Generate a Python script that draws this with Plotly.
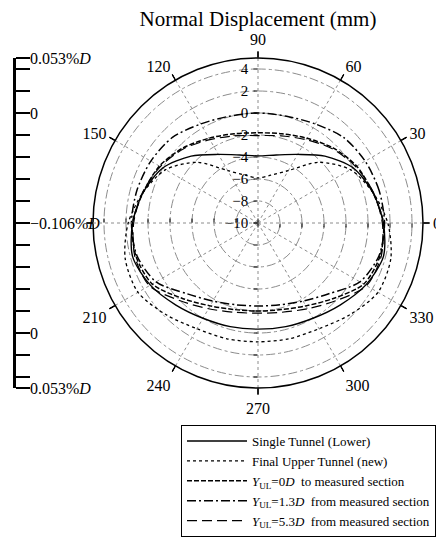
import plotly.graph_objects as go

# ---- data ----
theta = [0, 15, 30, 45, 60, 75, 90, 105, 120, 135, 150, 165, 180,
         195, 210, 225, 240, 255, 270, 285, 300, 315, 330, 345, 360]

single_lower = [1.4, 0.8, 0.0, -1.4, -2.8, -3.6, -3.9, -3.6, -2.8, -1.4, 0.0, 0.8, 1.4,
                1.8, 1.3, 0.55, 0.0, -0.25, -0.35, -0.25, 0.0, 0.55, 1.3, 1.8, 1.4]
final_upper = [1.8, 0.8, -0.3, -2.2, -4.5, -5.5, -5.9, -5.5, -4.5, -2.2, -0.3, 0.8, 1.8,
               2.5, 2.6, 1.8, 1.1, 0.9, 0.8, 0.9, 1.1, 1.8, 2.6, 2.5, 1.8]
y_0d = [1.4, 0.8, 0.35, -0.35, -1.1, -1.6, -1.8, -1.6, -1.1, -0.35, 0.35, 0.8, 1.4,
        1.5, 1.1, -0.3, -1.3, -1.85, -2.0, -1.85, -1.3, -0.3, 1.1, 1.5, 1.4]
y_13d = [1.5, 1.4, 1.25, 1.0, 0.4, 0.05, 0.0, 0.05, 0.4, 1.0, 1.25, 1.4, 1.5,
         1.4, 0.7, -0.9, -1.8, -2.3, -2.45, -2.3, -1.8, -0.9, 0.7, 1.4, 1.5]
y_53d = [1.3, 0.85, 0.25, -0.45, -1.25, -1.8, -2.05, -1.8, -1.25, -0.45, 0.25, 0.85, 1.3,
         1.6, 1.4, 0.0, -1.0, -1.6, -1.8, -1.6, -1.0, 0.0, 1.4, 1.6, 1.3]

series_names = [
    "Single Tunnel (Lower)",
    "Final Upper Tunnel (new)",
    "<i>Y</i><sub>UL</sub>=0<i>D</i>\u00a0\u00a0to measured section",
    "<i>Y</i><sub>UL</sub>=1.3<i>D</i>\u00a0\u00a0from measured section",
    "<i>Y</i><sub>UL</sub>=5.3<i>D</i>\u00a0\u00a0from measured section",
]
series_values = [single_lower, final_upper, y_0d, y_13d, y_53d]

radial_ticks = [-10, -8, -6, -4, -2, 0, 2, 4]
angular_ticks = [0, 30, 60, 90, 120, 150, 210, 240, 270, 300, 330]
angular_labels = ["0", "30", "60", "90", "120", "150", "210", "240", "270", "300", "330"]
all_spokes = [0, 30, 60, 90, 120, 150, 180, 210, 240, 270, 300, 330]

# left scale bar (distance from centre in mm -> %D labels)
scale_vals = [-15, -10, 0, 10, 15]
scale_text = ["0.053%<i>D</i>", "0", "\u22120.106%<i>D</i>", "0", "0.053%<i>D</i>"]
scale_minor = [-14, -12, -8, -6, -4, -2, 2, 4, 6, 8, 12, 14]

styles = [
    dict(dash="solid", width=1.4),
    dict(dash="dot", width=1.3),
    dict(dash="5px,2px", width=1.5),
    dict(dash="9px,3px,2px,3px", width=1.5),
    dict(dash="10px,5px", width=1.2),
]

FONT = "Liberation Serif, Times New Roman, serif"
GRID = "#8c8c8c"

fig = go.Figure()
for name, vals, st in zip(series_names, series_values, styles):
    fig.add_trace(go.Scatterpolar(
        r=vals, theta=theta, mode="lines", name=name, subplot="polar",
        line=dict(color="black", width=st["width"], dash=st["dash"], shape="spline", smoothing=0.8),
    ))

# empty traces that carry the overlay polar subplots (spoke at 180, short ticks, radial tick marks)
for sp in ["polar2", "polar3", "polar4", "polar5"]:
    fig.add_trace(go.Scatterpolar(r=[], theta=[], subplot=sp, showlegend=False, hoverinfo="skip"))

# invisible trace to carry the scale-bar axis
fig.add_trace(go.Scatter(x=[0], y=[0], xaxis="x2", yaxis="y2", mode="markers",
                         marker=dict(opacity=0), showlegend=False, hoverinfo="skip"))

W, H = 444, 547
OFF = 8  # the page body adds an 8 px margin; target pixel positions are compensated
cx, cy, R = 258 - OFF, 223 - OFF, 165
dom = dict(x=[(cx - R) / W, (cx + R) / W], y=[1 - (cy + R) / H, 1 - (cy - R) / H])


def overlay_polar(radial_angle, show_radial, angular_grid_vals, angular_ticks_on):
    return dict(
        domain=dom, bgcolor="rgba(0,0,0,0)",
        radialaxis=dict(
            range=[-10, 5], tickvals=radial_ticks, angle=radial_angle,
            visible=show_radial, showline=False, showticklabels=False,
            ticks="outside" if show_radial else "", ticklen=4, tickcolor="black", tickwidth=1,
            showgrid=False,
        ),
        angularaxis=dict(
            rotation=0, direction="counterclockwise",
            tickvals=angular_grid_vals, showticklabels=False, showline=False,
            ticks="outside" if angular_ticks_on else "", ticklen=6, tickcolor="black", tickwidth=1,
            showgrid=not angular_ticks_on, gridcolor=GRID, griddash="dot", gridwidth=0.9,
        ),
    )


fig.update_layout(
    template="none",
    width=W, height=H,
    margin=dict(l=0, r=0, t=0, b=0, autoexpand=False),
    paper_bgcolor="white", plot_bgcolor="white",
    font=dict(family=FONT, color="black", size=15),
    title=dict(text="Normal Displacement (mm)", x=cx / W, y=1 - 3 / H,
               xanchor="center", yanchor="top", pad=dict(t=0, b=0),
               font=dict(size=21, family=FONT)),
    polar=dict(
        domain=dom, bgcolor="rgba(0,0,0,0)",
        radialaxis=dict(
            range=[-10, 5], tickvals=radial_ticks, angle=90, side="counterclockwise",
            showline=False, ticks="outside", ticklen=4, tickcolor="black",
            tickfont=dict(size=15, family=FONT), tickangle=90,
            gridcolor=GRID, griddash="dashdot", gridwidth=0.8,
        ),
        angularaxis=dict(
            rotation=0, direction="counterclockwise",
            tickvals=angular_ticks, ticktext=angular_labels,
            showline=True, linecolor="black", linewidth=1.5,
            ticks="outside", ticklen=6, tickcolor="rgba(255,255,255,0)", tickwidth=1,
            tickfont=dict(size=16, family=FONT),
            gridcolor=GRID, griddash="dot", gridwidth=0.9,
        ),
    ),
    # spoke at 180 degrees (no label there in the reference)
    polar2=overlay_polar(0, False, [180], False),
    # short black tick marks at the outer circle and on the 0/180/270 radii
    polar3=overlay_polar(0, True, all_spokes, True),
    polar4=overlay_polar(270, True, all_spokes, True),
    polar5=overlay_polar(180, True, all_spokes, True),
    xaxis2=dict(domain=[0, 0.02], visible=False, anchor="y2", range=[0, 1], automargin=False),
    yaxis2=dict(
        domain=dom["y"], range=[-15, 15],
        anchor="free", position=(14 - OFF) / W, side="right", automargin=False,
        tickvals=scale_vals, ticktext=scale_text,
        ticks="outside", ticklen=14, tickwidth=2, tickcolor="black",
        ticklabelstandoff=-3,
        minor=dict(tickvals=scale_minor, ticks="outside", ticklen=14, tickwidth=2,
                   tickcolor="black", showgrid=False),
        showline=True, linecolor="black", linewidth=2.5,
        showgrid=False, zeroline=False, tickfont=dict(size=16, family=FONT),
    ),
    legend=dict(
        x=(181 - OFF) / W, y=1 - (425 - OFF) / H, xanchor="left", yanchor="top",
        bordercolor="black", borderwidth=1, bgcolor="white",
        font=dict(size=13, family=FONT), itemwidth=60,
    ),
    showlegend=True,
)

fig.write_html("out.html")
